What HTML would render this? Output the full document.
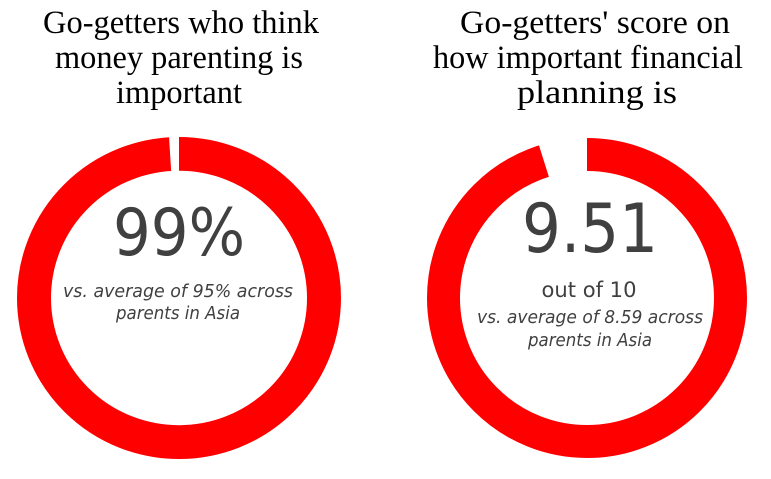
<!DOCTYPE html>
<html><head><meta charset="utf-8"><style>html,body{margin:0;padding:0;background:#fff;}svg{display:block}</style></head>
<body>
<svg width="771" height="479" viewBox="0 0 771 479" xmlns="http://www.w3.org/2000/svg">
<g font-family="Liberation Serif, serif" font-size="33" fill="#000" text-anchor="middle">
<text x="181" y="33" textLength="276" lengthAdjust="spacingAndGlyphs">Go-getters who think</text>
<text x="179" y="68" textLength="248" lengthAdjust="spacingAndGlyphs">money parenting is</text>
<text x="179" y="103" textLength="126" lengthAdjust="spacingAndGlyphs">important</text>
<text x="595" y="33" textLength="270" lengthAdjust="spacingAndGlyphs">Go-getters' score on</text>
<text x="588" y="68" textLength="310" lengthAdjust="spacingAndGlyphs">how important financial</text>
<text x="597" y="103" textLength="160" lengthAdjust="spacingAndGlyphs">planning is</text>
</g>
<g transform="translate(179,298) scale(1,0.994)">
<circle r="145" fill="none" stroke="#ff0000" stroke-width="34"/>
</g>
<polygon points="179,298 179,120 168,120" fill="#fff"/>
<g transform="translate(587,298)">
<circle r="143.5" fill="none" stroke="#ff0000" stroke-width="33"/>
</g>
<polygon points="587,298 587,120 531,120" fill="#fff"/>
<g font-family="DejaVu Sans, Liberation Sans, sans-serif" fill="#404040" text-anchor="middle">
<text x="179" y="255" font-size="65" textLength="132" lengthAdjust="spacingAndGlyphs">99%</text>
<text x="178" y="297" font-size="17.5" font-style="italic" textLength="230" lengthAdjust="spacingAndGlyphs">vs. average of 95% across</text>
<text x="178" y="319" font-size="17.5" font-style="italic" textLength="124" lengthAdjust="spacingAndGlyphs">parents in Asia</text>
<text x="590" y="252" font-size="68" textLength="136" lengthAdjust="spacingAndGlyphs">9.51</text>
<text x="589" y="297" font-size="21" textLength="95" lengthAdjust="spacingAndGlyphs">out of 10</text>
<text x="590" y="323" font-size="17.5" font-style="italic" textLength="226" lengthAdjust="spacingAndGlyphs">vs. average of 8.59 across</text>
<text x="590" y="346" font-size="17.5" font-style="italic" textLength="124" lengthAdjust="spacingAndGlyphs">parents in Asia</text>
</g>
</svg>
</body></html>
